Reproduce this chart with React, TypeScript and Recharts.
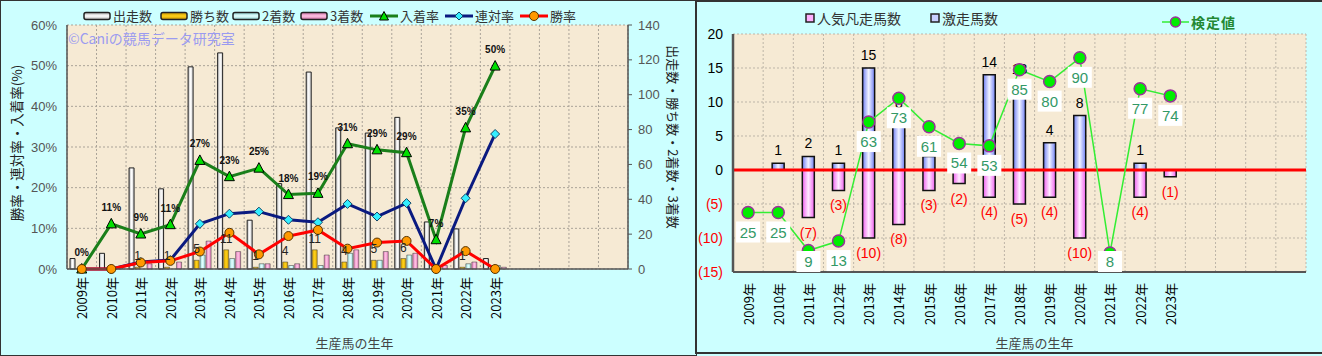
import React from "react";
import {
  ComposedChart,
  Bar,
  Line,
  XAxis,
  YAxis,
  CartesianGrid,
  LabelList,
  ReferenceLine,
  Label,
} from "recharts";

// ---------- categories ----------
const years = [
  "2009年", "2010年", "2011年", "2012年", "2013年", "2014年", "2015年", "2016年",
  "2017年", "2018年", "2019年", "2020年", "2021年", "2022年", "2023年",
];
const emptySlots = ["_1", "_2", "_3", "_4"];

// ---------- left chart ----------
const starts = [6, 9, 58, 46, 116, 124, 28, 49, 113, 81, 78, 87, 27, 23, 6];
const wins = [0, 0, 1, 1, 5, 11, 1, 4, 11, 4, 5, 6, 0, 1, 0];
const seconds = [0, 0, 0, 0, 8, 6, 3, 2, 2, 9, 5, 8, 0, 3, 2];
const thirds = [0, 1, 3, 4, 16, 10, 3, 3, 8, 11, 10, 9, 2, 4, 1];
const placeRate = [0, 11.1, 8.6, 10.9, 26.7, 22.7, 24.8, 18.3, 18.6, 30.8, 29.3, 28.6, 7.2, 34.7, 49.9];
const quinellaRate = [0, 0, 1.7, 2.2, 11.1, 13.6, 14.1, 12.1, 11.5, 16.0, 12.9, 16.2, 0, 17.4, 33.2];
const winRate = [0, 0, 1.6, 2.0, 4.3, 8.9, 3.6, 8.1, 9.6, 5.0, 6.5, 6.9, 0, 4.4, 0];
const pctTicks = [0, 10, 20, 30, 40, 50, 60];
const cntTicks = [0, 20, 40, 60, 80, 100, 120, 140];

// ---------- right chart ----------
const upsets = [0, 1, 2, 1, 15, 8, 2, 2, 14, 13, 4, 8, 0, 1, 0];
const flops = [0, 0, -7, -3, -10, -8, -3, -2, -4, -5, -4, -10, 0, -4, -1];
const kentei = [25, 25, 9, 13, 63, 73, 61, 54, 53, 85, 80, 90, 8, 77, 74];
const valTicks = [-15, -10, -5, 0, 5, 10, 15, 20];

const leftRows = [
  ...years.map((y, i) => ({
    year: y,
    starts: starts[i],
    wins: wins[i],
    seconds: seconds[i],
    thirds: thirds[i],
    placeRate: placeRate[i],
    quinellaRate: quinellaRate[i],
    winRate: winRate[i],
  })),
  ...emptySlots.map((e) => ({ year: e })),
];

const rightRows = [
  ...years.map((y, i) => ({
    year: y,
    upsets: upsets[i],
    flops: flops[i],
    kentei: kentei[i],
  })),
  ...emptySlots.map((e) => ({ year: e })),
];

const FONT = "'Liberation Sans', 'Noto Sans CJK JP', sans-serif";
const JFONT = "'Noto Sans CJK JP', 'Liberation Sans', sans-serif";

const boundaryGen = (n: number) => (props: any) => {
  const off = props.offset || {};
  const w = off.width != null ? off.width : props.width - off.left - off.right;
  return Array.from({ length: n + 1 }, (_, i) => off.left + (i * w) / n);
};

const YearTick = (props: any) => {
  const { x, y, payload, fontSize } = props;
  const label = String(payload.value);
  if (label.startsWith("_")) return <g />;
  return (
    <text
      x={x}
      y={y}
      transform={`rotate(-90 ${x} ${y})`}
      textAnchor="end"
      dominantBaseline="central"
      fontSize={fontSize || 13}
      fill="#000"
      fontFamily={JFONT}
    >
      {label}
    </text>
  );
};

const ValTick = (props: any) => {
  const { x, y, payload } = props;
  const v = Number(payload.value);
  const neg = v < 0;
  return (
    <text x={x} y={y} textAnchor="end" dominantBaseline="central" fontSize={14} fill={neg ? "#ff0000" : "#000"}>
      {neg ? `(${-v})` : v}
    </text>
  );
};

const TriDot = (p: any) => {
  const { cx, cy, index } = p;
  if (cx == null || cy == null) return <g key={`t${index}`} />;
  return (
    <path
      key={`t${index}`}
      d={`M${cx},${cy - 5.5} L${cx + 5},${cy + 4} L${cx - 5},${cy + 4} Z`}
      fill="#00e000"
      stroke="#000"
      strokeWidth={1}
    />
  );
};
const DiaDot = (p: any) => {
  const { cx, cy, index } = p;
  if (cx == null || cy == null) return <g key={`d${index}`} />;
  return (
    <path
      key={`d${index}`}
      d={`M${cx},${cy - 4.5} L${cx + 4.5},${cy} L${cx},${cy + 4.5} L${cx - 4.5},${cy} Z`}
      fill="#33eeff"
      stroke="#114466"
      strokeWidth={1}
    />
  );
};
const CirDot = (p: any) => {
  const { cx, cy, index } = p;
  if (cx == null || cy == null) return <g key={`c${index}`} />;
  return <circle key={`c${index}`} cx={cx} cy={cy} r={4.5} fill="#ff9900" stroke="#553300" strokeWidth={1} />;
};

const PctLabel = (p: any) => {
  const { x, y, value } = p;
  if (value == null || x == null) return null;
  return (
    <text x={x} y={y - 13} textAnchor="middle" fontSize={10} fontWeight="bold" fill="#111">
      {Math.round(value)}%
    </text>
  );
};

const WinLabel = (p: any) => {
  const { x, y, width, height, value } = p;
  if (!value) return null;
  const top = Math.min(y, y + height);
  return (
    <text x={x + width / 2} y={top - 7} textAnchor="middle" fontSize={12} fill="#222">
      {value}
    </text>
  );
};

const UpLabel = (p: any) => {
  const { x, y, width, height, value } = p;
  if (!value || value <= 0) return null;
  const top = Math.min(y, y + height);
  return (
    <text x={x + width / 2} y={top - 8} textAnchor="middle" fontSize={14} fill="#000">
      {value}
    </text>
  );
};

const FlopLabel = (p: any) => {
  const { x, y, width, height, value } = p;
  if (!value || value >= 0) return null;
  const bottom = Math.max(y, y + height);
  return (
    <text x={x + width / 2} y={bottom + 20} textAnchor="middle" fontSize={14} fill="#ff0000">
      ({-value})
    </text>
  );
};

const RIGHT_PLOT_BOTTOM = 356 - 84;
// draws the 検定値 marker and its white value box (in the label layer so it covers bar labels)
const KLabel = (p: any) => {
  const { x, y, value } = p;
  if (value == null || x == null) return null;
  const h = 21;
  const w = 24;
  const top = Math.min(y + 9, RIGHT_PLOT_BOTTOM - h);
  return (
    <g>
      <circle cx={x} cy={y} r={6} fill="#00ee00" stroke="#993399" strokeWidth={1.5} />
      <rect x={x - w / 2} y={top} width={w} height={h} fill="#ffffff" />
      <text x={x} y={top + h / 2} textAnchor="middle" dominantBaseline="central" fontSize={15} fill="#339966">
        {value}
      </text>
    </g>
  );
};

const BarIcon = ({ id, c1, c2 }: { id: string; c1: string; c2: string }) => (
  <svg width={28} height={10} style={{ display: "block" }}>
    <defs>
      <linearGradient id={id} x1="0" y1="0" x2="0" y2="1">
        <stop offset="0%" stopColor={c1} />
        <stop offset="50%" stopColor={c2} />
        <stop offset="100%" stopColor={c1} />
      </linearGradient>
    </defs>
    <rect x={1} y={1.5} width={26} height={7} rx={2} fill={`url(#${id})`} stroke="#222" strokeWidth={1.5} />
  </svg>
);

const LineIcon = ({ stroke, marker }: { stroke: string; marker: React.ReactNode }) => (
  <svg width={28} height={12} style={{ display: "block" }}>
    <line x1={0} y1={6} x2={28} y2={6} stroke={stroke} strokeWidth={3} />
    {marker}
  </svg>
);

const legendItem = (left: number, top: number, icon: React.ReactNode, text: string, color = "#333", extra: any = {}) => (
  <div
    key={text}
    style={{
      position: "absolute",
      left,
      top,
      display: "flex",
      alignItems: "center",
      gap: 2,
      fontSize: 13,
      fontFamily: JFONT,
      color,
      whiteSpace: "nowrap",
      lineHeight: "16px",
      ...extra,
    }}
  >
    {icon}
    <span>{text}</span>
  </div>
);

const LeftChart = () => (
  <ComposedChart
    width={697}
    height={356}
    data={leftRows}
    margin={{ top: 25, right: 0, bottom: 0, left: 0 }}
    barSize={5}
    barGap={1}
    style={{ fontFamily: FONT }}
  >
    <defs>
      <linearGradient id="gStarts" x1="0" y1="0" x2="1" y2="0">
        <stop offset="0%" stopColor="#b8b8b8" />
        <stop offset="50%" stopColor="#ffffff" />
        <stop offset="100%" stopColor="#c8c8c8" />
      </linearGradient>
      <linearGradient id="gWins" x1="0" y1="0" x2="1" y2="0">
        <stop offset="0%" stopColor="#d9a400" />
        <stop offset="50%" stopColor="#ffd21a" />
        <stop offset="100%" stopColor="#d9a400" />
      </linearGradient>
      <linearGradient id="gSec" x1="0" y1="0" x2="1" y2="0">
        <stop offset="0%" stopColor="#9edede" />
        <stop offset="50%" stopColor="#e4ffff" />
        <stop offset="100%" stopColor="#9edede" />
      </linearGradient>
      <linearGradient id="gThird" x1="0" y1="0" x2="1" y2="0">
        <stop offset="0%" stopColor="#e07ab8" />
        <stop offset="50%" stopColor="#ffc4e4" />
        <stop offset="100%" stopColor="#e07ab8" />
      </linearGradient>
    </defs>
    <CartesianGrid
      xAxisId="x"
      yAxisId="pct"
      fill="#f6ead4"
      fillOpacity={1}
      stroke="#aaa398"
      strokeDasharray="2 2"
      verticalCoordinatesGenerator={boundaryGen(leftRows.length)}
    />
    <XAxis
      xAxisId="x"
      dataKey="year"
      height={87}
      interval={0}
      tick={<YearTick fontSize={13} />}
      tickLine={false}
      tickSize={0}
      tickMargin={8}
      axisLine={{ stroke: "#555", strokeWidth: 1.5 }}
    >
      <Label
        content={(p: any) => {
          const vb = p.viewBox;
          return (
            <text x={vb.x + vb.width / 2 + 7} y={342} textAnchor="middle" dominantBaseline="central" fontSize={13} fill="#444" fontFamily={JFONT}>
              生産馬の生年
            </text>
          );
        }}
      />
    </XAxis>
    <XAxis xAxisId="top" orientation="top" dataKey="year" height={0} tick={false} tickLine={false} axisLine={{ stroke: "#666", strokeWidth: 1.5 }} />
    <YAxis
      yAxisId="pct"
      domain={[0, 60]}
      ticks={pctTicks}
      tickFormatter={(v: number) => `${v}%`}
      width={67}
      tickLine={false}
      tickSize={0}
      tickMargin={10}
      tick={{ fontSize: 13, fill: "#555" }}
      axisLine={{ stroke: "#555", strokeWidth: 1.5 }}
    >
      <Label
        content={(p: any) => {
          const vb = p.viewBox;
          const cx = vb.x + 16;
          const cy = vb.y + vb.height / 2 - 4;
          return (
            <text x={cx} y={cy} transform={`rotate(-90 ${cx} ${cy})`} textAnchor="middle" dominantBaseline="central" fontSize={13.5} fill="#222" fontFamily={JFONT}>
              勝率・連対率・入着率(%)
            </text>
          );
        }}
      />
    </YAxis>
    <YAxis
      yAxisId="cnt"
      orientation="right"
      domain={[0, 140]}
      ticks={cntTicks}
      width={69}
      tickSize={4}
      tickMargin={6}
      tickLine={{ stroke: "#555" }}
      tick={{ fontSize: 13, fill: "#555", textAnchor: "start" }}
      axisLine={{ stroke: "#555", strokeWidth: 1.5 }}
    >
      <Label
        content={(p: any) => {
          const vb = p.viewBox;
          const cx = vb.x + 45;
          const cy = vb.y + vb.height / 2 - 10;
          return (
            <text x={cx} y={cy} transform={`rotate(90 ${cx} ${cy})`} textAnchor="middle" dominantBaseline="central" fontSize={13} fill="#222" fontFamily={JFONT}>
              出走数・勝ち数・2着数・3着数
            </text>
          );
        }}
      />
    </YAxis>

    <Bar xAxisId="x" yAxisId="cnt" dataKey="starts" fill="url(#gStarts)" stroke="#222" strokeWidth={1} isAnimationActive={false} />
    <Bar xAxisId="x" yAxisId="cnt" dataKey="wins" fill="url(#gWins)" stroke="#333" strokeWidth={0.5} isAnimationActive={false}>
      <LabelList dataKey="wins" content={WinLabel} />
    </Bar>
    <Bar xAxisId="x" yAxisId="cnt" dataKey="seconds" fill="url(#gSec)" stroke="#333" strokeWidth={0.5} isAnimationActive={false} />
    <Bar xAxisId="x" yAxisId="cnt" dataKey="thirds" fill="url(#gThird)" stroke="#333" strokeWidth={0.5} isAnimationActive={false} />

    <Line xAxisId="x" yAxisId="pct" dataKey="placeRate" stroke="#1a7f1a" strokeWidth={3} dot={TriDot} activeDot={false} isAnimationActive={false}>
      <LabelList dataKey="placeRate" content={PctLabel} />
    </Line>
    <Line xAxisId="x" yAxisId="pct" dataKey="quinellaRate" stroke="#0a1a80" strokeWidth={3} dot={DiaDot} activeDot={false} isAnimationActive={false} />
    <Line xAxisId="x" yAxisId="pct" dataKey="winRate" stroke="#ff0000" strokeWidth={3} dot={CirDot} activeDot={false} isAnimationActive={false} />
  </ComposedChart>
);

const RightChart = () => (
  <ComposedChart
    width={626}
    height={356}
    data={rightRows}
    margin={{ top: 34, right: 16, bottom: 0, left: 0 }}
    stackOffset="sign"
    barSize={12}
    style={{ fontFamily: FONT }}
  >
    <defs>
      <linearGradient id="gBlue" x1="0" y1="0" x2="1" y2="0">
        <stop offset="0%" stopColor="#6f7ff5" />
        <stop offset="50%" stopColor="#f2f4ff" />
        <stop offset="100%" stopColor="#6f7ff5" />
      </linearGradient>
      <linearGradient id="gPink" x1="0" y1="0" x2="1" y2="0">
        <stop offset="0%" stopColor="#f060f0" />
        <stop offset="50%" stopColor="#ffecff" />
        <stop offset="100%" stopColor="#f060f0" />
      </linearGradient>
    </defs>
    <CartesianGrid
      xAxisId="x"
      yAxisId="v"
      fill="#f6ead4"
      fillOpacity={1}
      stroke="#bdb5a8"
      strokeDasharray="2 2"
      verticalCoordinatesGenerator={boundaryGen(rightRows.length)}
    />
    <XAxis
      xAxisId="x"
      dataKey="year"
      height={84}
      interval={0}
      tick={<YearTick fontSize={13} />}
      tickLine={false}
      tickSize={0}
      tickMargin={11}
      axisLine={{ stroke: "#555", strokeWidth: 2 }}
    >
      <Label
        content={(p: any) => {
          const vb = p.viewBox;
          return (
            <text x={vb.x + vb.width / 2 + 15} y={342} textAnchor="middle" dominantBaseline="central" fontSize={13} fill="#444" fontFamily={JFONT}>
              生産馬の生年
            </text>
          );
        }}
      />
    </XAxis>
    <XAxis xAxisId="top" orientation="top" dataKey="year" height={0} tick={false} tickLine={false} axisLine={{ stroke: "#888", strokeWidth: 2 }} />
    <YAxis
      yAxisId="v"
      domain={[-15, 20]}
      ticks={valTicks}
      width={37}
      tickLine={false}
      tickSize={0}
      tickMargin={10}
      tick={<ValTick />}
      axisLine={{ stroke: "#555", strokeWidth: 2.5 }}
    />
    <YAxis yAxisId="k" orientation="right" domain={[0, 100]} width={0} tick={false} tickLine={false} axisLine={{ stroke: "#888", strokeWidth: 2 }} />

    <Bar xAxisId="x" yAxisId="v" dataKey="flops" stackId="s" fill="url(#gPink)" stroke="#111" strokeWidth={1.5} isAnimationActive={false}>
      <LabelList dataKey="flops" content={FlopLabel} />
    </Bar>
    <Bar xAxisId="x" yAxisId="v" dataKey="upsets" stackId="s" fill="url(#gBlue)" stroke="#111" strokeWidth={1.5} isAnimationActive={false}>
      <LabelList dataKey="upsets" content={UpLabel} />
    </Bar>
    <ReferenceLine xAxisId="x" yAxisId="v" y={0} stroke="#ff0000" strokeWidth={3} />
    <Line xAxisId="x" yAxisId="k" dataKey="kentei" stroke="#33ee33" strokeWidth={1.5} dot={false} activeDot={false} isAnimationActive={false}>
      <LabelList dataKey="kentei" content={KLabel} />
    </Line>
  </ComposedChart>
);

export default function App() {
  return (
    <div
      style={{
        position: "absolute",
        left: 0,
        top: 0,
        width: 1322,
        height: 356,
        background: "#ccffff",
        overflow: "hidden",
        fontFamily: FONT,
      }}
    >
      <div style={{ position: "absolute", left: 0, top: 0, width: 697, height: 356, boxSizing: "border-box", border: "1.5px solid #333" }} />
      <div style={{ position: "absolute", left: 695, top: 0, width: 630, height: 354, boxSizing: "border-box", border: "2px solid #333" }} />
      <div style={{ position: "absolute", left: 0, top: 0 }}>
        <LeftChart />
      </div>
      <div style={{ position: "absolute", left: 696, top: 0 }}>
        <RightChart />
      </div>

      {/* left legend */}
      {legendItem(83, 8, <BarIcon id="lg1" c1="#b0b0b0" c2="#ffffff" />, "出走数")}
      {legendItem(160, 8, <BarIcon id="lg2" c1="#c89400" c2="#ffd21a" />, "勝ち数")}
      {legendItem(232, 8, <BarIcon id="lg3" c1="#8ecccc" c2="#e4ffff" />, "2着数")}
      {legendItem(300, 8, <BarIcon id="lg4" c1="#d070a8" c2="#ffc4e4" />, "3着数")}
      {legendItem(370, 8, <LineIcon stroke="#1a7f1a" marker={<path d="M14,1.5 L18.5,10 L9.5,10 Z" fill="#00e000" stroke="#000" strokeWidth={1} />} />, "入着率")}
      {legendItem(445, 8, <LineIcon stroke="#0a1a80" marker={<path d="M14,2 L18,6 L14,10 L10,6 Z" fill="#33eeff" stroke="#114466" strokeWidth={1} />} />, "連対率")}
      {legendItem(520, 8, <LineIcon stroke="#ff0000" marker={<circle cx={14} cy={6} r={4.5} fill="#ff9900" stroke="#553300" strokeWidth={1} />} />, "勝率")}

      {/* watermark */}
      <div style={{ position: "absolute", left: 68, top: 29, fontSize: 14, color: "#9b9bf0", fontFamily: JFONT, whiteSpace: "nowrap", lineHeight: "18px" }}>
        ©Caniの競馬データ研究室
      </div>

      {/* right legend */}
      {legendItem(
        805,
        10,
        <svg width={10} height={10} style={{ display: "block" }}>
          <rect x={1} y={1} width={8} height={8} fill="#ffb0ff" stroke="#222" strokeWidth={1.5} />
        </svg>,
        "人気凡走馬数",
        "#333",
        { fontSize: 14 }
      )}
      {legendItem(
        930,
        10,
        <svg width={10} height={10} style={{ display: "block" }}>
          <rect x={1} y={1} width={8} height={8} fill="#c8d0ff" stroke="#222" strokeWidth={1.5} />
        </svg>,
        "激走馬数",
        "#333",
        { fontSize: 14 }
      )}
      {legendItem(
        1162,
        14,
        <svg width={27} height={14} style={{ display: "block" }}>
          <line x1={0} y1={7} x2={27} y2={7} stroke="#33ee33" strokeWidth={1.5} />
          <circle cx={13.5} cy={7} r={5} fill="#00ee00" stroke="#993399" strokeWidth={1.5} />
        </svg>,
        "検定値",
        "#228833",
        { fontSize: 14, fontWeight: "bold", letterSpacing: "1px" }
      )}
    </div>
  );
}
